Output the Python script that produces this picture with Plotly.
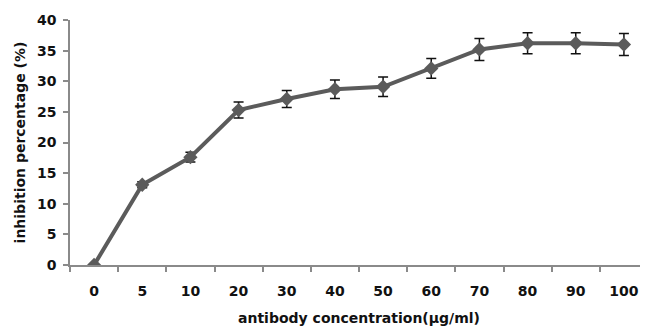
import plotly.graph_objects as go

concentration = ["0", "5", "10", "20", "30", "40", "50", "60", "70", "80", "90", "100"]
inhibition = [0.0, 13.1, 17.6, 25.3, 27.1, 28.7, 29.1, 32.1, 35.2, 36.2, 36.2, 36.0]
error = [0.0, 0.5, 0.8, 1.3, 1.4, 1.5, 1.6, 1.6, 1.8, 1.7, 1.7, 1.8]
y_ticks = [0, 5, 10, 15, 20, 25, 30, 35, 40]

font_family = "DejaVu Sans, sans-serif"

fig = go.Figure()
fig.add_trace(go.Scatter(
    x=concentration,
    y=inhibition,
    mode="lines+markers",
    line=dict(color="#5b5b5b", width=4),
    marker=dict(symbol="diamond", size=11, color="#5b5b5b"),
    error_y=dict(type="data", array=error, visible=True, color="#111111",
                 thickness=1.5, width=5),
    showlegend=False,
))

# the page body adds an 8px offset, so the figure is 640x320
fig.update_layout(
    width=640, height=320,
    margin=dict(l=62, r=0, t=12, b=63),
    paper_bgcolor="white",
    plot_bgcolor="white",
    font=dict(family=font_family, size=14, color="#111111"),
)

fig.update_xaxes(
    type="category",
    range=[-0.5, 11.5],
    automargin=False,
    showline=True, linecolor="#8a8a8a", linewidth=1.5,
    ticks="outside", tickson="boundaries", ticklen=5, tickcolor="#8a8a8a", tickwidth=1.5,
    ticklabelstandoff=12,
    showgrid=False, zeroline=False,
    tickfont=dict(family=font_family, size=14, color="#111111", weight="bold"),
    title=dict(text="antibody concentration(µg/ml)", standoff=16,
               font=dict(family=font_family, size=14, color="#111111", weight="bold")),
)
fig.update_yaxes(
    range=[0, 40],
    tickvals=y_ticks,
    automargin=False,
    showline=True, linecolor="#8a8a8a", linewidth=1.5,
    ticks="outside", ticklen=5, tickcolor="#8a8a8a", tickwidth=1.5,
    ticklabelstandoff=4,
    showgrid=False, zeroline=False,
    tickfont=dict(family=font_family, size=14, color="#111111", weight="bold"),
    title=dict(text="inhibition percentage (%)", standoff=8,
               font=dict(family=font_family, size=14, color="#111111", weight="bold")),
)

fig.write_html("out.html")
